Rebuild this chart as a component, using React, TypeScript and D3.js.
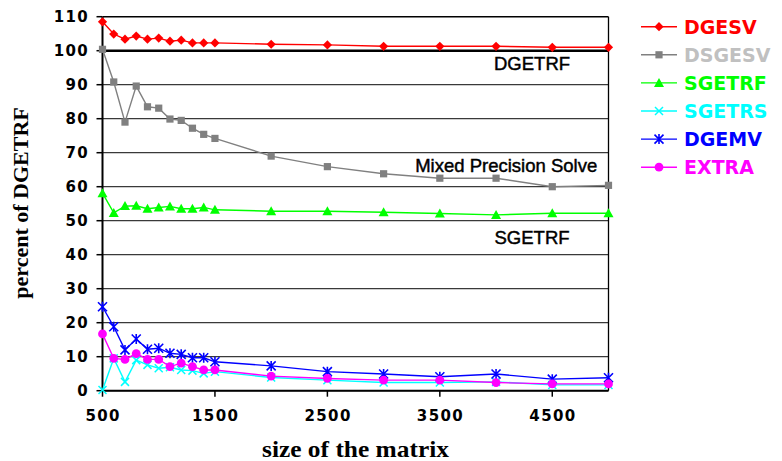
import React from "react";
import * as d3 from "d3";

const sizes = [500, 600, 700, 800, 900, 1000, 1100, 1200, 1300, 1400, 1500, 2000, 2500, 3000, 3500, 4000, 4500, 5000];
const dgesv = [108.5, 104.9, 103.4, 104.3, 103.4, 103.7, 102.8, 103.1, 102.3, 102.3, 102.3, 101.9, 101.7, 101.3, 101.3, 101.3, 101.0, 101.0];
const dsgesv = [100.4, 90.8, 79.0, 89.6, 83.5, 83.1, 79.9, 79.5, 77.2, 75.4, 74.2, 69.0, 65.9, 63.8, 62.5, 62.5, 60.0, 60.4];
const sgetrf = [58.1, 52.3, 54.3, 54.4, 53.5, 53.9, 54.2, 53.5, 53.5, 53.9, 53.2, 52.8, 52.8, 52.5, 52.1, 51.7, 52.2, 52.2];
const sgetrs = [0.2, 9.5, 2.6, 9.0, 7.6, 6.6, 6.9, 6.1, 5.9, 5.1, 5.6, 3.9, 3.1, 2.4, 2.4, 2.6, 1.7, 1.7];
const dgemv = [24.7, 18.8, 12.0, 15.2, 12.2, 12.5, 11.0, 10.7, 9.7, 9.7, 8.5, 7.3, 5.6, 4.9, 4.1, 4.9, 3.4, 3.8];
const extra = [16.7, 9.5, 9.2, 10.9, 9.2, 9.2, 7.1, 8.1, 7.1, 6.1, 6.1, 4.3, 3.6, 3.1, 3.1, 2.4, 2.0, 2.0];

const seriesNames = ["DGESV", "DSGESV", "SGETRF", "SGETRS", "DGEMV", "EXTRA"];
const seriesValues = [dgesv, dsgesv, sgetrf, sgetrs, dgemv, extra];
const lineColors = ["#ff0000", "#808080", "#00ff00", "#00ffff", "#0000ff", "#ff00ff"];
const textColors = ["#ff0000", "#c0c0c0", "#00ff00", "#00ffff", "#0000ff", "#ff00ff"];
const markerTypes = ["diamond", "square", "triangle", "x", "asterisk", "circle"];

const yTicks = d3.range(0, 111, 10);
const xTickLabels = [500, 1500, 2500, 3500, 4500];

const annotations = [
  { text: "DGETRF", x: 4320, y: 96.4 },
  { text: "Mixed Precision Solve", x: 4090, y: 66.2 },
  { text: "SGETRF", x: 4320, y: 45.2 },
];

function Marker({ type, x, y, color }: { type: string; x: number; y: number; color: string }) {
  if (type === "diamond") {
    const r = 4.6;
    return <path d={`M${x},${y - r}L${x + r},${y}L${x},${y + r}L${x - r},${y}Z`} fill={color} />;
  }
  if (type === "square") {
    const r = 3.6;
    return <rect x={x - r} y={y - r} width={2 * r} height={2 * r} fill={color} />;
  }
  if (type === "triangle") {
    const r = 5;
    return <path d={`M${x},${y - r}L${x + r},${y + r * 0.8}L${x - r},${y + r * 0.8}Z`} fill={color} />;
  }
  if (type === "x") {
    const r = 4;
    return <path d={`M${x - r},${y - r}L${x + r},${y + r}M${x - r},${y + r}L${x + r},${y - r}`} stroke={color} strokeWidth={1.5} fill="none" />;
  }
  if (type === "asterisk") {
    const r = 4.5;
    return (
      <path
        d={`M${x - r},${y - r}L${x + r},${y + r}M${x - r},${y + r}L${x + r},${y - r}M${x},${y - r - 0.5}L${x},${y + r + 0.5}`}
        stroke={color}
        strokeWidth={1.6}
        fill="none"
      />
    );
  }
  return <circle cx={x} cy={y} r={4.4} fill={color} />;
}

export default function App() {
  const x = d3.scaleLinear().domain([500, 5000]).range([102.5, 608.5]);
  const y = d3.scaleLinear().domain([0, 110]).range([390.7, 16.7]);
  const line = d3
    .line<number>()
    .x((_, i) => x(sizes[i]))
    .y((d) => y(d));

  const left = x(500);
  const right = x(5000);

  return (
    <svg width={782} height={461} style={{ position: "absolute", left: 0, top: 0, background: "#fff" }}>
      {/* gridlines */}
      {yTicks.map((t) => (
        <line
          key={"g" + t}
          x1={left}
          x2={right}
          y1={y(t)}
          y2={y(t)}
          stroke={t === 100 || t === 110 ? "#000" : "#3a3a3a"}
          strokeWidth={t === 100 ? 2.6 : t === 110 ? 1.5 : 1.3}
        />
      ))}
      {/* right border */}
      <line x1={right} x2={right} y1={y(110)} y2={y(0)} stroke="#000" strokeWidth={1.3} />
      {/* y axis */}
      <line x1={left} x2={left} y1={y(110)} y2={y(0) + 1} stroke="#000" strokeWidth={2} />
      {yTicks.map((t) => (
        <g key={"yt" + t}>
          <line x1={left - 6} x2={left} y1={y(t)} y2={y(t)} stroke="#000" strokeWidth={1.5} />
          <text
            x={89}
            y={y(t)}
            dy="0.36em"
            textAnchor="end"
            fontFamily="'DejaVu Sans', sans-serif"
            fontWeight="bold"
            fontSize={15}
            letterSpacing={1.3}
            fill="#000"
          >
            {t}
          </text>
        </g>
      ))}
      {/* x axis */}
      <line x1={left - 1} x2={right} y1={y(0)} y2={y(0)} stroke="#000" strokeWidth={2} />
      {xTickLabels.map((t) => (
        <g key={"xt" + t}>
          <line x1={x(t)} x2={x(t)} y1={y(0)} y2={y(0) + 6} stroke="#000" strokeWidth={1.5} />
          <text
            x={x(t) + 0.7}
            y={420.7}
            textAnchor="middle"
            fontFamily="'DejaVu Sans', sans-serif"
            fontWeight="bold"
            fontSize={15}
            letterSpacing={1.4}
            fill="#000"
          >
            {t}
          </text>
        </g>
      ))}
      {/* annotations */}
      {annotations.map((a) => (
        <text
          key={a.text}
          x={x(a.x)}
          y={y(a.y)}
          dy="0.36em"
          textAnchor="middle"
          fontFamily="'Liberation Sans', Arial, sans-serif"
          fontSize={18.5}
          stroke="#000"
          strokeWidth={0.45}
          fill="#000"
        >
          {a.text}
        </text>
      ))}
      {/* series */}
      {seriesValues.map((vals, si) => (
        <g key={seriesNames[si]}>
          <path d={line(vals) || ""} fill="none" stroke={lineColors[si]} strokeWidth={1.4} />
          {vals.map((v, i) => (
            <Marker key={i} type={markerTypes[si]} x={x(sizes[i])} y={y(v)} color={lineColors[si]} />
          ))}
        </g>
      ))}
      {/* legend */}
      {seriesNames.map((n, i) => {
        const ly = 26.7 + i * 28.1;
        return (
          <g key={"lg" + n}>
            <line x1={641} x2={677} y1={ly} y2={ly} stroke={lineColors[i]} strokeWidth={1.4} />
            <Marker type={markerTypes[i]} x={659} y={ly} color={lineColors[i]} />
            <text
              x={684}
              y={ly}
              dy="0.36em"
              fontFamily="'DejaVu Sans', sans-serif"
              fontWeight="bold"
              fontSize={19}
              fill={textColors[i]}
            >
              {n}
            </text>
          </g>
        );
      })}
      {/* axis titles */}
      <text
        x={355.5}
        y={456.5}
        textAnchor="middle"
        fontFamily="'Liberation Serif', 'Times New Roman', serif"
        fontWeight="bold"
        fontSize={22.5}
        textLength={187}
        lengthAdjust="spacingAndGlyphs"
        fill="#000"
      >
        size of the matrix
      </text>
      <text
        transform="translate(28,203) rotate(-90)"
        textAnchor="middle"
        fontFamily="'Liberation Serif', 'Times New Roman', serif"
        fontWeight="bold"
        fontSize={22}
        fill="#000"
      >
        percent of DGETRF
      </text>
    </svg>
  );
}
